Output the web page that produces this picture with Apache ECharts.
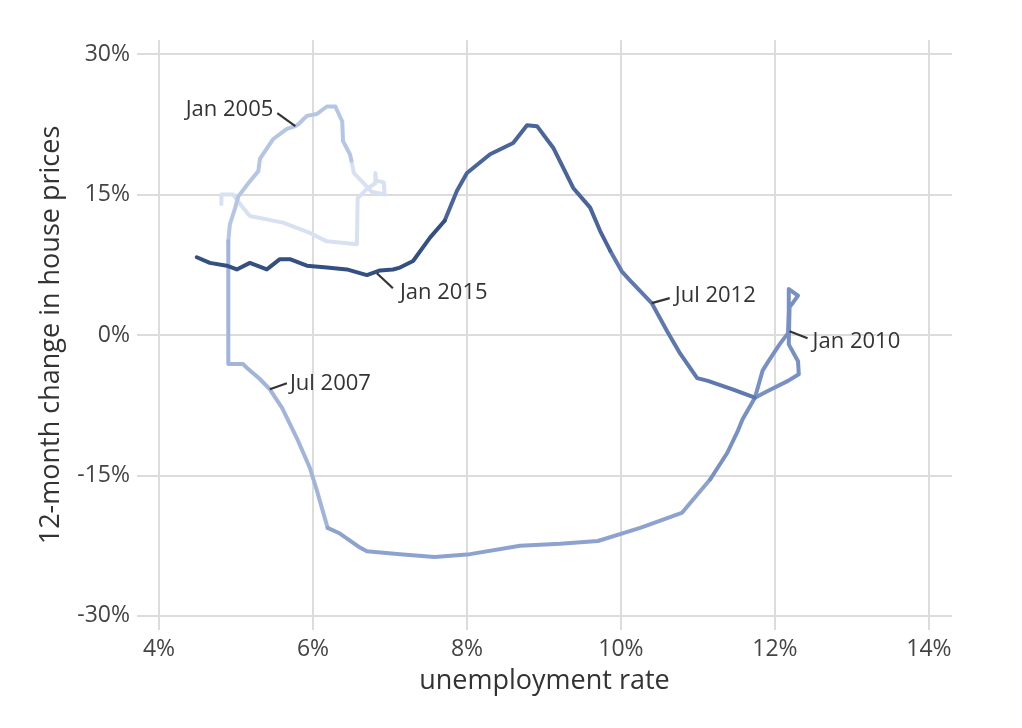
<!DOCTYPE html>
<html><head><meta charset="utf-8">
<script src="https://cdn.jsdelivr.net/npm/echarts@6/dist/echarts.min.js"></script>
<style>html,body{margin:0;padding:0;background:#fff}#c{width:1022px;height:728px}</style>
</head><body><div id="c"></div>
<script>
// tick values (percent)
const xTicks = [4, 6, 8, 10, 12, 14];
const yTicks = [-30, -15, 0, 15, 30];

// path segments, [unemployment %, 12-month house price change %], in time order
const seg2001 = [[4.81,14.0],[4.81,15.0],[4.96,15.0],[5.09,13.6],[5.18,12.7],[5.61,12.0],[5.96,10.9],[6.18,10.0],[6.57,9.7],[6.58,14.6],[6.70,15.6],[6.81,16.2],[6.81,17.3],[6.82,16.5],[6.92,16.3],[6.93,15.0],[6.76,15.3],[6.66,16.2],[6.53,17.3],[6.50,18.6]];
const seg2004 = [[6.50,18.6],[6.48,19.3],[6.39,20.7],[6.38,22.8],[6.29,24.4],[6.18,24.4],[6.05,23.6],[5.92,23.4],[5.81,22.5],[5.77,22.3],[5.66,22.0],[5.48,20.9],[5.31,18.8],[5.29,17.5],[5.16,16.2],[5.03,14.8],[4.99,13.6],[4.92,11.8],[4.90,10.0]];
const seg2006 = [[4.90,10.0],[4.90,-3.1],[5.09,-3.1],[5.14,-3.5],[5.31,-4.7],[5.44,-5.8],[5.60,-7.8],[5.79,-11.0],[5.96,-14.2],[6.05,-16.6],[6.19,-20.6]];
const seg2008 = [[6.19,-20.6],[6.35,-21.2],[6.61,-22.7],[6.70,-23.1],[7.13,-23.4],[7.58,-23.7],[8.04,-23.4],[8.69,-22.5],[9.21,-22.3],[9.70,-22.0],[10.25,-20.6],[10.79,-19.0],[11.16,-15.4]];
const seg2009 = [[11.16,-15.4],[11.38,-12.6],[11.52,-10.2],[11.58,-9.0],[11.74,-6.7],[11.84,-3.8],[11.90,-3.0],[12.06,-1.0],[12.17,0.2],[12.18,2.6],[12.18,4.9],[12.30,4.2],[12.23,3.4],[12.19,3.0],[12.18,-1.0],[12.30,-2.8],[12.31,-4.2],[12.17,-4.9],[11.90,-6.0],[11.74,-6.7]];
const seg2011 = [[11.74,-6.7],[11.45,-5.8],[11.13,-4.9],[10.99,-4.6],[10.77,-2.0],[10.60,0.4],[10.40,3.4],[10.12,5.8],[10.01,6.8],[9.86,9.0]];
const seg2013 = [[9.86,9.0],[9.73,11.1],[9.60,13.6],[9.38,15.7],[9.12,20.0],[8.91,22.3],[8.78,22.4],[8.60,20.5],[8.30,19.3],[8.00,17.3],[7.87,15.4],[7.71,12.2]];
const seg2014 = [[7.71,12.2],[7.52,10.4],[7.30,7.9],[7.13,7.2],[7.04,7.0],[6.87,6.9],[6.70,6.4],[6.44,7.0],[6.18,7.2],[5.92,7.4],[5.70,8.1],[5.57,8.1],[5.40,7.0],[5.18,7.7],[5.01,7.0],[4.88,7.4],[4.66,7.7],[4.49,8.3]];

// annotations
const annotText = ['Jan 2005','Jul 2007','Jan 2010','Jul 2012','Jan 2015'];
const annotX = [5.77, 5.44, 12.19, 10.40, 6.83];
const annotY = [22.3, -5.8, 0.4, 3.4, 6.6];

// styling
const FONT = '"Open Sans", "Noto Sans", sans-serif';
const segments = [seg2001, seg2004, seg2006, seg2008, seg2009, seg2011, seg2013, seg2014];
const segColors = ['#d8e1f2','#b5c5e4','#a3b4db','#8ea2cf','#7890c4','#5f78b0','#4a649c','#344f82'];
// offsets: leader end [dx,dy], text anchor [dx,dy], align
const annotStyle = [
  {q:[-18,-13], t:[-22,-16], align:'right'},
  {q:[17,-6],  t:[20,-6],   align:'left'},
  {q:[18,7],   t:[23,10],   align:'left'},
  {q:[18,-5],  t:[23,-7],   align:'left'},
  {q:[16,15],  t:[23,20],   align:'left'}
];

const chart = echarts.init(document.getElementById('c'), null, {renderer:'canvas'});

const series = [];
series.push({
  type:'line', data:[], z:1, silent:true,
  markLine:{
    silent:true, symbol:'none', z:1, animation:false,
    label:{show:false},
    lineStyle:{color:'#dcdcdc', width:2, type:'solid'},
    emphasis:{disabled:true},
    data:[...xTicks.map(v=>({xAxis:v})), ...yTicks.map(v=>({yAxis:v}))]
  }
});
segments.forEach((seg,i)=>{
  series.push({
    type:'line', data:seg, z:3+i, showSymbol:false, symbol:'none', smooth:false,
    lineStyle:{color:segColors[i], width:4, cap:'round', join:'round'},
    animation:false, silent:true
  });
});
series.push({
  type:'custom', z:20, silent:true, animation:false,
  data: annotText.map((t,i)=>[annotX[i], annotY[i], i]),
  renderItem:(params, api)=>{
    const i = api.value(2);
    const p = api.coord([api.value(0), api.value(1)]);
    const s = annotStyle[i];
    return {type:'group', children:[
      {type:'line', shape:{x1:p[0], y1:p[1], x2:p[0]+s.q[0], y2:p[1]+s.q[1]},
       style:{stroke:'#333', lineWidth:2.2}},
      {type:'text', x:p[0]+s.t[0], y:p[1]+s.t[1],
       style:{text:annotText[i], fill:'#333', font:'22px '+FONT, align:s.align, verticalAlign:'middle'}}
    ]};
  }
});

chart.setOption({
  animation:false,
  backgroundColor:'#fff',
  grid:{left:137, right:70, top:40, bottom:98, containLabel:false},
  xAxis:{
    type:'value', min:3.714, max:14.3,
    axisLine:{show:false}, axisTick:{show:false}, splitLine:{show:false},
    axisLabel:{customValues:xTicks, formatter:v=>v+'%', margin:8, fontSize:23, color:'#444', fontFamily:FONT},
    name:'unemployment rate', nameLocation:'middle', nameGap:38,
    nameTextStyle:{fontSize:27, color:'#333', fontFamily:FONT}
  },
  yAxis:{
    type:'value', min:-31.5, max:31.5,
    axisLine:{show:false}, axisTick:{show:false}, splitLine:{show:false},
    axisLabel:{customValues:yTicks, formatter:v=>v+'%', margin:7, fontSize:23, color:'#444', fontFamily:FONT},
    name:'12-month change in house prices', nameLocation:'middle', nameGap:72, nameRotate:90,
    nameTextStyle:{fontSize:27, color:'#333', fontFamily:FONT}
  },
  series
});
</script></body></html>
